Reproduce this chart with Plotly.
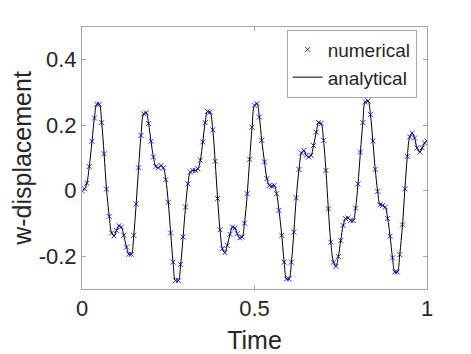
import plotly.graph_objects as go

# time samples of the solution
time = [
    0, 0.007, 0.014, 0.021, 0.029, 0.036, 0.043, 0.05, 0.057, 0.064, 0.071, 0.079, 0.086, 0.093,
    0.1, 0.107, 0.114, 0.121, 0.129, 0.136, 0.143, 0.15, 0.157, 0.164, 0.171, 0.179, 0.186, 0.193,
    0.2, 0.207, 0.214, 0.221, 0.229, 0.236, 0.243, 0.25, 0.257, 0.264, 0.271, 0.279, 0.286, 0.293,
    0.3, 0.307, 0.314, 0.321, 0.329, 0.336, 0.343, 0.35, 0.357, 0.364, 0.371, 0.379, 0.386, 0.393,
    0.4, 0.407, 0.414, 0.421, 0.429, 0.436, 0.443, 0.45, 0.457, 0.464, 0.471, 0.479, 0.486, 0.493,
    0.5, 0.507, 0.514, 0.521, 0.529, 0.536, 0.543, 0.55, 0.557, 0.564, 0.571, 0.579, 0.586, 0.593,
    0.6, 0.607, 0.614, 0.621, 0.629, 0.636, 0.643, 0.65, 0.657, 0.664, 0.671, 0.679, 0.686, 0.693,
    0.7, 0.707, 0.714, 0.721, 0.729, 0.736, 0.743, 0.75, 0.757, 0.764, 0.771, 0.779, 0.786, 0.793,
    0.8, 0.807, 0.814, 0.821, 0.829, 0.836, 0.843, 0.85, 0.857, 0.864, 0.871, 0.879, 0.886, 0.893,
    0.9, 0.907, 0.914, 0.921, 0.929, 0.936, 0.943, 0.95, 0.957, 0.964, 0.971, 0.979, 0.986, 0.993,
    1.0,
]

w_numerical = [
    0.0, 0.006, 0.023, 0.074, 0.151, 0.222, 0.264, 0.264, 0.208, 0.113, 0.005, -0.078, -0.129,
    -0.138, -0.121, -0.107, -0.111, -0.136, -0.172, -0.194, -0.194, -0.136, -0.040, 0.070, 0.169,
    0.235, 0.238, 0.205, 0.151, 0.103, 0.074, 0.070, 0.077, 0.070, 0.034, -0.035, -0.129, -0.218,
    -0.274, -0.274, -0.225, -0.141, -0.050, 0.021, 0.057, 0.062, 0.062, 0.067, 0.093,
    0.149, 0.208, 0.242, 0.240, 0.186, 0.090, -0.024, -0.119, -0.177, -0.189, -0.167, -0.133,
    -0.111, -0.114, -0.131, -0.144, -0.141, -0.099, -0.009, 0.096, 0.194, 0.261, 0.266,
    0.225, 0.154, 0.088, 0.037, 0.016, 0.014, 0.016, -0.009, -0.060, -0.136, -0.218, -0.269,
    -0.269, -0.218, -0.126, -0.022, 0.065, 0.115, 0.123, 0.108, 0.103, 0.108, 0.138, 0.179,
    0.208, 0.205, 0.154, 0.062, -0.055, -0.157, -0.218, -0.231, -0.201, -0.152, -0.106, -0.085,
    -0.083, -0.091, -0.091, -0.053, 0.021, 0.118, 0.208, 0.271, 0.274, 0.233, 0.152,
    0.065, -0.002, -0.043, -0.045, -0.050, -0.085, -0.139, -0.205, -0.248, -0.248, -0.195,
    -0.104, 0.006, 0.105, 0.164, 0.176, 0.161, 0.131, 0.118, 0.131, 0.146, 0.152,
]

# analytical curve sampled at the same instants
w_analytical = list(w_numerical)

x_ticks = [0, 0.5, 1]
x_tick_labels = ["0", "0.5", "1"]
y_ticks = [-0.2, 0, 0.2, 0.4]
y_tick_labels = ["-0.2", "0", "0.2", "0.4"]

FONT = "Liberation Sans, Arial, Helvetica, sans-serif"
TEXT = "#262626"
AXIS = "#a6a6a6"

fig = go.Figure()
fig.add_trace(
    go.Scatter(
        x=time,
        y=w_numerical,
        mode="markers",
        name="numerical",
        marker={"symbol": "x-thin", "size": 5, "color": "#2b2bff", "line": {"color": "#2b2bff", "width": 1}},
    )
)
fig.add_trace(
    go.Scatter(
        x=time,
        y=w_analytical,
        mode="lines",
        name="analytical",
        line={"color": "black", "width": 1, "shape": "spline"},
    )
)

axis_style = dict(
    showline=True,
    linecolor=AXIS,
    linewidth=1,
    mirror="ticks",
    ticks="inside",
    ticklen=4,
    tickcolor=AXIS,
    showgrid=False,
    zeroline=False,
    automargin=False,
    tickfont={"size": 22, "color": TEXT, "family": FONT},
)

# the page body adds 8px on the top and left, so the figure is sized to fit the window
fig.update_layout(
    width=463,
    height=346,
    autosize=False,
    paper_bgcolor="white",
    plot_bgcolor="white",
    margin={"l": 74, "r": 44, "t": 19, "b": 65},
    font={"family": FONT, "color": TEXT},
    showlegend=True,
    legend={
        "x": 0.97,
        "y": 0.99,
        "xanchor": "right",
        "yanchor": "top",
        "bgcolor": "white",
        "bordercolor": AXIS,
        "borderwidth": 1,
        "font": {"size": 19, "color": TEXT, "family": FONT},
        "itemwidth": 30,
        "tracegroupgap": 0,
    },
    xaxis=dict(
        axis_style,
        range=[0, 1],
        tickvals=x_ticks,
        ticktext=x_tick_labels,
        title={"text": "Time", "font": {"size": 25, "color": TEXT, "family": FONT}, "standoff": 11},
    ),
    yaxis=dict(
        axis_style,
        range=[-0.3, 0.5],
        tickvals=y_ticks,
        ticktext=y_tick_labels,
        title={"text": "w-displacement", "font": {"size": 25, "color": TEXT, "family": FONT}, "standoff": 6},
    ),
)

fig.write_html("out.html")
